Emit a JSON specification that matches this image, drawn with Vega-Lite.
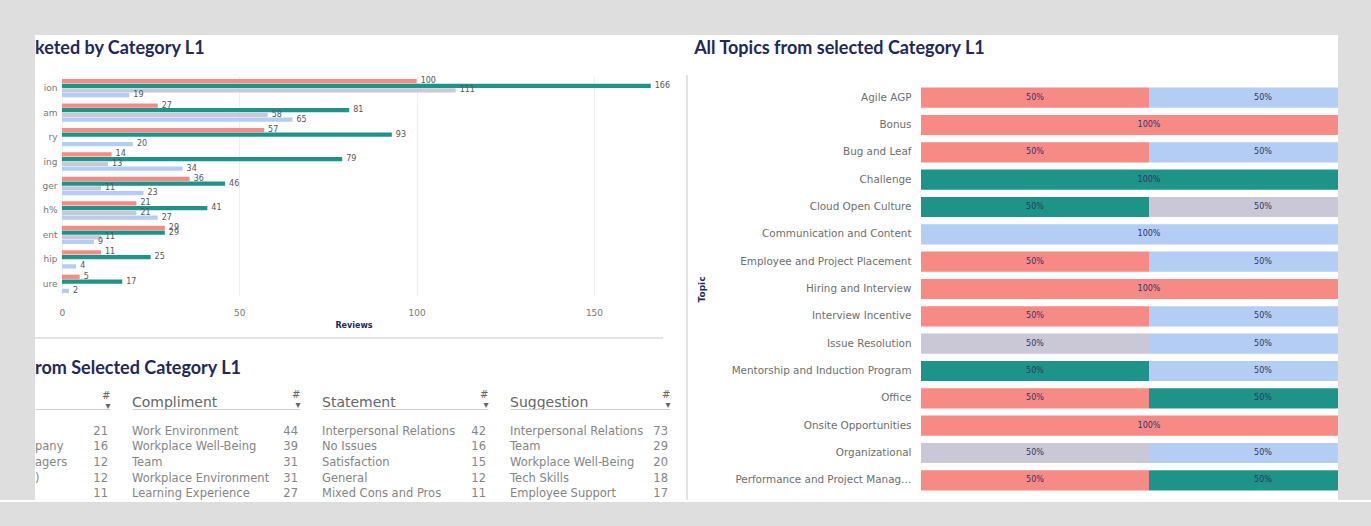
{
  "$schema": "https://vega.github.io/schema/vega-lite/v6.json",
  "background": "white",
  "padding": 0,
  "spacing": 0,
  "config": {
    "view": {"stroke": null},
    "font": "DejaVu Sans",
    "title": {"font": "Lato", "fontWeight": "bold", "fontSize": 18, "color": "#23285a", "anchor": "start"}
  },
  "datasets": {
    "bucket": [
      {"cat": "ion", "type": "Complaint", "n": 100}, {"cat": "ion", "type": "Compliment", "n": 166}, {"cat": "ion", "type": "Statement", "n": 111}, {"cat": "ion", "type": "Suggestion", "n": 19},
      {"cat": "am", "type": "Complaint", "n": 27}, {"cat": "am", "type": "Compliment", "n": 81}, {"cat": "am", "type": "Statement", "n": 58}, {"cat": "am", "type": "Suggestion", "n": 65},
      {"cat": "ry", "type": "Complaint", "n": 57}, {"cat": "ry", "type": "Compliment", "n": 93}, {"cat": "ry", "type": "Suggestion", "n": 20},
      {"cat": "ing", "type": "Complaint", "n": 14}, {"cat": "ing", "type": "Compliment", "n": 79}, {"cat": "ing", "type": "Statement", "n": 13}, {"cat": "ing", "type": "Suggestion", "n": 34},
      {"cat": "ger", "type": "Complaint", "n": 36}, {"cat": "ger", "type": "Compliment", "n": 46}, {"cat": "ger", "type": "Statement", "n": 11}, {"cat": "ger", "type": "Suggestion", "n": 23},
      {"cat": "h%", "type": "Complaint", "n": 21}, {"cat": "h%", "type": "Compliment", "n": 41}, {"cat": "h%", "type": "Statement", "n": 21}, {"cat": "h%", "type": "Suggestion", "n": 27},
      {"cat": "ent", "type": "Complaint", "n": 29}, {"cat": "ent", "type": "Compliment", "n": 29}, {"cat": "ent", "type": "Statement", "n": 11}, {"cat": "ent", "type": "Suggestion", "n": 9},
      {"cat": "hip", "type": "Complaint", "n": 11}, {"cat": "hip", "type": "Compliment", "n": 25}, {"cat": "hip", "type": "Suggestion", "n": 4},
      {"cat": "ure", "type": "Complaint", "n": 5}, {"cat": "ure", "type": "Compliment", "n": 17}, {"cat": "ure", "type": "Suggestion", "n": 2}
    ],
    "table": [
      {"type": "Complaint", "rank": "1", "topic": "", "n": 21},
      {"type": "Complaint", "rank": "2", "topic": "pany", "n": 16},
      {"type": "Complaint", "rank": "3", "topic": "agers", "n": 12},
      {"type": "Complaint", "rank": "4", "topic": ")", "n": 12},
      {"type": "Complaint", "rank": "5", "topic": "", "n": 11},
      {"type": "Compliment", "rank": "1", "topic": "Work Environment", "n": 44},
      {"type": "Compliment", "rank": "2", "topic": "Workplace Well-Being", "n": 39},
      {"type": "Compliment", "rank": "3", "topic": "Team", "n": 31},
      {"type": "Compliment", "rank": "4", "topic": "Workplace Environment", "n": 31},
      {"type": "Compliment", "rank": "5", "topic": "Learning Experience", "n": 27},
      {"type": "Statement", "rank": "1", "topic": "Interpersonal Relations", "n": 42},
      {"type": "Statement", "rank": "2", "topic": "No Issues", "n": 16},
      {"type": "Statement", "rank": "3", "topic": "Satisfaction", "n": 15},
      {"type": "Statement", "rank": "4", "topic": "General", "n": 12},
      {"type": "Statement", "rank": "5", "topic": "Mixed Cons and Pros", "n": 11},
      {"type": "Suggestion", "rank": "1", "topic": "Interpersonal Relations", "n": 73},
      {"type": "Suggestion", "rank": "2", "topic": "Team", "n": 29},
      {"type": "Suggestion", "rank": "3", "topic": "Workplace Well-Being", "n": 20},
      {"type": "Suggestion", "rank": "4", "topic": "Tech Skills", "n": 18},
      {"type": "Suggestion", "rank": "5", "topic": "Employee Support", "n": 17}
    ],
    "topics": [
      {"topic": "Agile AGP", "type": "Complaint", "pct": 0.5}, {"topic": "Agile AGP", "type": "Suggestion", "pct": 0.5},
      {"topic": "Bonus", "type": "Complaint", "pct": 1},
      {"topic": "Bug and Leaf", "type": "Complaint", "pct": 0.5}, {"topic": "Bug and Leaf", "type": "Suggestion", "pct": 0.5},
      {"topic": "Challenge", "type": "Compliment", "pct": 1},
      {"topic": "Cloud Open Culture", "type": "Compliment", "pct": 0.5}, {"topic": "Cloud Open Culture", "type": "Statement", "pct": 0.5},
      {"topic": "Communication and Content", "type": "Suggestion", "pct": 1},
      {"topic": "Employee and Project Placement", "type": "Complaint", "pct": 0.5}, {"topic": "Employee and Project Placement", "type": "Suggestion", "pct": 0.5},
      {"topic": "Hiring and Interview", "type": "Complaint", "pct": 1},
      {"topic": "Interview Incentive", "type": "Complaint", "pct": 0.5}, {"topic": "Interview Incentive", "type": "Suggestion", "pct": 0.5},
      {"topic": "Issue Resolution", "type": "Statement", "pct": 0.5}, {"topic": "Issue Resolution", "type": "Suggestion", "pct": 0.5},
      {"topic": "Mentorship and Induction Program", "type": "Compliment", "pct": 0.5}, {"topic": "Mentorship and Induction Program", "type": "Suggestion", "pct": 0.5},
      {"topic": "Office", "type": "Complaint", "pct": 0.5}, {"topic": "Office", "type": "Compliment", "pct": 0.5},
      {"topic": "Onsite Opportunities", "type": "Complaint", "pct": 1},
      {"topic": "Organizational", "type": "Statement", "pct": 0.5}, {"topic": "Organizational", "type": "Suggestion", "pct": 0.5},
      {"topic": "Performance and Project Management", "type": "Complaint", "pct": 0.5}, {"topic": "Performance and Project Management", "type": "Compliment", "pct": 0.5}
    ]
  },
  "vconcat": [
    {"width": 1371, "height": 35, "data": {"values": []}, "mark": {"type": "point", "opacity": 0}, "encoding": {}, "view": {"fill": "#dedede", "stroke": null}},
    {
      "spacing": 0,
      "hconcat": [
        {"width": 35, "height": 465, "data": {"values": []}, "mark": {"type": "point", "opacity": 0}, "encoding": {}, "view": {"fill": "#dedede", "stroke": null}},
        {
          "spacing": 0,
          "vconcat": [
            {"width": 651, "height": 5, "data": {"values": []}, "mark": {"type": "point", "opacity": 0}, "encoding": {}},
            {
              "width": 637, "height": 220,
              "title": {"text": "keted by Category L1", "frame": "bounds", "offset": 18},
              "data": {"name": "bucket"},
              "encoding": {
                "y": {"field": "cat", "type": "nominal", "sort": ["ion", "am", "ry", "ing", "ger", "h%", "ent", "hip", "ure"], "scale": {"paddingInner": 0.25, "paddingOuter": 0.12},
                      "axis": {"title": null, "domain": false, "ticks": false, "labelColor": "#777", "labelFontSize": 9, "labelAlign": "right", "labelPadding": -22}},
                "yOffset": {"field": "type", "type": "nominal", "scale": {"domain": ["Complaint", "Compliment", "Statement", "Suggestion"], "paddingInner": 0.1}},
                "x": {"field": "n", "type": "quantitative", "scale": {"domain": [-7.6, 172], "nice": false},
                      "axis": {"values": [0, 50, 100, 150], "grid": true, "gridColor": "#eeeeee", "domain": false, "ticks": false, "labelPadding": 12, "labelColor": "#777", "labelFontSize": 9, "title": "Reviews", "titleFontSize": 8, "titleColor": "#23285a", "titleFontWeight": "bold", "titlePadding": 4}}
              },
              "layer": [
                {"mark": {"type": "bar"},
                 "encoding": {"color": {"field": "type", "type": "nominal", "legend": null, "scale": {"domain": ["Complaint", "Compliment", "Statement", "Suggestion"], "range": ["#f88a86", "#1e9488", "#cac7d6", "#b3cdf5"]}}}},
                {"mark": {"type": "text", "align": "left", "dx": 4, "fontSize": 8, "color": "#555"},
                 "encoding": {"text": {"field": "n", "type": "quantitative"}}}
              ]
            },
            {"width": 1, "height": 8, "data": {"values": []}, "mark": {"type": "point", "opacity": 0}, "encoding": {}},
            {"width": 628, "height": 2, "data": {"values": []}, "mark": {"type": "point", "opacity": 0}, "encoding": {}, "view": {"fill": "#e4e4e4", "stroke": null}},
            {"width": 1, "height": 21, "data": {"values": []}, "mark": {"type": "point", "opacity": 0}, "encoding": {}},
            {
              "title": {"text": "rom Selected Category L1", "offset": 11},
              "spacing": 21,
              "hconcat": [
                {
                  "width": 75, "height": 93,
                  "data": {"name": "table"},
                  "transform": [{"filter": "datum.type == 'Complaint'"}],
                  "encoding": {"y": {"field": "rank", "type": "ordinal", "scale": {"type": "band", "paddingInner": 0, "paddingOuter": 0.47, "align": 1}, "axis": null}},
                  "layer": [
                    {"mark": {"type": "text", "align": "left", "fontSize": 11.5, "color": "#858585"},
                     "encoding": {"text": {"field": "topic"},
                                  "x": {"field": "type", "type": "nominal", "bandPosition": 0, "scale": {"type": "band", "paddingInner": 0, "paddingOuter": 0},
                                        "axis": {"orient": "top", "labels": false, "ticks": false, "domainColor": "#cfcfcf", "title": ["#", "▾"], "titleAnchor": "end", "titleAlign": "right", "titleFontSize": 10, "titleFontWeight": "normal", "titleColor": "#666", "titlePadding": -1, "titleLineHeight": 10}}}},
                    {"mark": {"type": "text", "align": "right", "dx": -2, "fontSize": 11.5, "color": "#858585"},
                     "encoding": {"text": {"field": "n"},
                                  "x": {"field": "type", "type": "nominal", "bandPosition": 1, "scale": {"type": "band", "paddingInner": 0, "paddingOuter": 0},
                                        "axis": {"orient": "top", "labels": false, "ticks": false, "domainColor": "#cfcfcf", "title": ["#", "▾"], "titleAnchor": "end", "titleAlign": "right", "titleFontSize": 10, "titleFontWeight": "normal", "titleColor": "#666", "titlePadding": -1, "titleLineHeight": 10}}}}
                  ]
                },
                {
                  "width": 168, "height": 93,
                  "data": {"name": "table"},
                  "transform": [{"filter": "datum.type == 'Compliment'"}],
                  "encoding": {"y": {"field": "rank", "type": "ordinal", "scale": {"type": "band", "paddingInner": 0, "paddingOuter": 0.47, "align": 1}, "axis": null}},
                  "layer": [
                    {"mark": {"type": "text", "align": "left", "fontSize": 11.5, "color": "#858585"},
                     "encoding": {"text": {"field": "topic"},
                                  "x": {"field": "type", "type": "nominal", "bandPosition": 0, "scale": {"type": "band", "paddingInner": 0, "paddingOuter": 0},
                                        "axis": {"orient": "top", "labelAlign": "left", "labelOffset": -84, "labelAngle": 0, "labelFontSize": 14, "labelColor": "#666", "labelPadding": 0, "ticks": false, "domainColor": "#cfcfcf", "title": ["#", "▾"], "titleAnchor": "end", "titleAlign": "right", "titleFontSize": 10, "titleFontWeight": "normal", "titleColor": "#666", "titlePadding": -14, "titleLineHeight": 10}}}},
                    {"mark": {"type": "text", "align": "right", "dx": -2, "fontSize": 11.5, "color": "#858585"},
                     "encoding": {"text": {"field": "n"},
                                  "x": {"field": "type", "type": "nominal", "bandPosition": 1, "scale": {"type": "band", "paddingInner": 0, "paddingOuter": 0},
                                        "axis": {"orient": "top", "labelAlign": "left", "labelOffset": -84, "labelAngle": 0, "labelFontSize": 14, "labelColor": "#666", "labelPadding": 0, "ticks": false, "domainColor": "#cfcfcf", "title": ["#", "▾"], "titleAnchor": "end", "titleAlign": "right", "titleFontSize": 10, "titleFontWeight": "normal", "titleColor": "#666", "titlePadding": -14, "titleLineHeight": 10}}}}
                  ]
                },
                {
                  "width": 166, "height": 93,
                  "data": {"name": "table"},
                  "transform": [{"filter": "datum.type == 'Statement'"}],
                  "encoding": {"y": {"field": "rank", "type": "ordinal", "scale": {"type": "band", "paddingInner": 0, "paddingOuter": 0.47, "align": 1}, "axis": null}},
                  "layer": [
                    {"mark": {"type": "text", "align": "left", "fontSize": 11.5, "color": "#858585"},
                     "encoding": {"text": {"field": "topic"},
                                  "x": {"field": "type", "type": "nominal", "bandPosition": 0, "scale": {"type": "band", "paddingInner": 0, "paddingOuter": 0},
                                        "axis": {"orient": "top", "labelAlign": "left", "labelOffset": -83, "labelAngle": 0, "labelFontSize": 14, "labelColor": "#666", "labelPadding": 0, "ticks": false, "domainColor": "#cfcfcf", "title": ["#", "▾"], "titleAnchor": "end", "titleAlign": "right", "titleFontSize": 10, "titleFontWeight": "normal", "titleColor": "#666", "titlePadding": -14, "titleLineHeight": 10}}}},
                    {"mark": {"type": "text", "align": "right", "dx": -2, "fontSize": 11.5, "color": "#858585"},
                     "encoding": {"text": {"field": "n"},
                                  "x": {"field": "type", "type": "nominal", "bandPosition": 1, "scale": {"type": "band", "paddingInner": 0, "paddingOuter": 0},
                                        "axis": {"orient": "top", "labelAlign": "left", "labelOffset": -83, "labelAngle": 0, "labelFontSize": 14, "labelColor": "#666", "labelPadding": 0, "ticks": false, "domainColor": "#cfcfcf", "title": ["#", "▾"], "titleAnchor": "end", "titleAlign": "right", "titleFontSize": 10, "titleFontWeight": "normal", "titleColor": "#666", "titlePadding": -14, "titleLineHeight": 10}}}}
                  ]
                },
                {
                  "width": 160, "height": 93,
                  "data": {"name": "table"},
                  "transform": [{"filter": "datum.type == 'Suggestion'"}],
                  "encoding": {"y": {"field": "rank", "type": "ordinal", "scale": {"type": "band", "paddingInner": 0, "paddingOuter": 0.47, "align": 1}, "axis": null}},
                  "layer": [
                    {"mark": {"type": "text", "align": "left", "fontSize": 11.5, "color": "#858585"},
                     "encoding": {"text": {"field": "topic"},
                                  "x": {"field": "type", "type": "nominal", "bandPosition": 0, "scale": {"type": "band", "paddingInner": 0, "paddingOuter": 0},
                                        "axis": {"orient": "top", "labelAlign": "left", "labelOffset": -80, "labelAngle": 0, "labelFontSize": 14, "labelColor": "#666", "labelPadding": 0, "ticks": false, "domainColor": "#cfcfcf", "title": ["#", "▾"], "titleAnchor": "end", "titleAlign": "right", "titleFontSize": 10, "titleFontWeight": "normal", "titleColor": "#666", "titlePadding": -14, "titleLineHeight": 10}}}},
                    {"mark": {"type": "text", "align": "right", "dx": -2, "fontSize": 11.5, "color": "#858585"},
                     "encoding": {"text": {"field": "n"},
                                  "x": {"field": "type", "type": "nominal", "bandPosition": 1, "scale": {"type": "band", "paddingInner": 0, "paddingOuter": 0},
                                        "axis": {"orient": "top", "labelAlign": "left", "labelOffset": -80, "labelAngle": 0, "labelFontSize": 14, "labelColor": "#666", "labelPadding": 0, "ticks": false, "domainColor": "#cfcfcf", "title": ["#", "▾"], "titleAnchor": "end", "titleAlign": "right", "titleFontSize": 10, "titleFontWeight": "normal", "titleColor": "#666", "titlePadding": -14, "titleLineHeight": 10}}}}
                  ]
                }
              ]
            }
          ]
        },
        {
          "spacing": 0,
          "vconcat": [
            {"width": 2, "height": 40, "data": {"values": []}, "mark": {"type": "point", "opacity": 0}, "encoding": {}},
            {"width": 2, "height": 425, "data": {"values": []}, "mark": {"type": "point", "opacity": 0}, "encoding": {}, "view": {"fill": "#e2e2e2", "stroke": null}}
          ]
        },
        {"width": 6, "height": 10, "data": {"values": []}, "mark": {"type": "point", "opacity": 0}, "encoding": {}},
        {
          "spacing": 0,
          "vconcat": [
            {"width": 1, "height": 5, "data": {"values": []}, "mark": {"type": "point", "opacity": 0}, "encoding": {}},
            {
              "width": 417, "height": 410,
              "title": {"text": "All Topics from selected Category L1", "frame": "bounds", "offset": 26, "dx": -3},
              "data": {"name": "topics"},
              "transform": [{"stack": "pct", "groupby": ["topic"], "sort": [{"field": "type", "order": "ascending"}], "as": ["x0", "x1"]}],
              "encoding": {
                "y": {"field": "topic", "type": "nominal",
                      "sort": ["Agile AGP", "Bonus", "Bug and Leaf", "Challenge", "Cloud Open Culture", "Communication and Content", "Employee and Project Placement", "Hiring and Interview", "Interview Incentive", "Issue Resolution", "Mentorship and Induction Program", "Office", "Onsite Opportunities", "Organizational", "Performance and Project Management"],
                      "scale": {"type": "band", "paddingInner": 0.26, "paddingOuter": 0.13},
                      "axis": {"title": "Topic", "titleFontSize": 9, "titleColor": "#23285a", "titleFontWeight": "bold", "titlePadding": 25, "domain": false, "ticks": false, "labelColor": "#6e6e6e", "labelFontSize": 10.4, "labelPadding": 10, "labelLimit": 182}}
              },
              "layer": [
                {"mark": {"type": "bar", "clip": true},
                 "encoding": {
                   "x": {"field": "x0", "type": "quantitative", "scale": {"domain": [0, 0.9145], "nice": false, "zero": false}, "axis": null},
                   "x2": {"field": "x1"},
                   "color": {"field": "type", "type": "nominal", "legend": null, "scale": {"domain": ["Complaint", "Compliment", "Statement", "Suggestion"], "range": ["#f88a86", "#1e9488", "#cbcbcb", "#b3cdf5"]}}}},
                {"mark": {"type": "text", "clip": true, "fontSize": 8, "color": "#2c3566"},
                 "encoding": {
                   "x": {"field": "pct", "type": "quantitative", "stack": "zero", "bandPosition": 0.5, "scale": {"domain": [0, 0.9145], "nice": false, "zero": false}, "axis": null},
                   "detail": {"field": "type", "type": "nominal"},
                   "order": {"field": "type", "type": "nominal", "sort": "ascending"},
                   "text": {"field": "pct", "type": "quantitative", "format": ".0%"}}}
              ]
            }
          ]
        },
        {"width": 33, "height": 465, "data": {"values": []}, "mark": {"type": "point", "opacity": 0}, "encoding": {}, "view": {"fill": "#dedede", "stroke": null}}
      ]
    },
    {"width": 1371, "height": 26, "data": {"values": []}, "mark": {"type": "point", "opacity": 0}, "encoding": {}, "view": {"fill": "#dedede", "stroke": null}}
  ]
}
